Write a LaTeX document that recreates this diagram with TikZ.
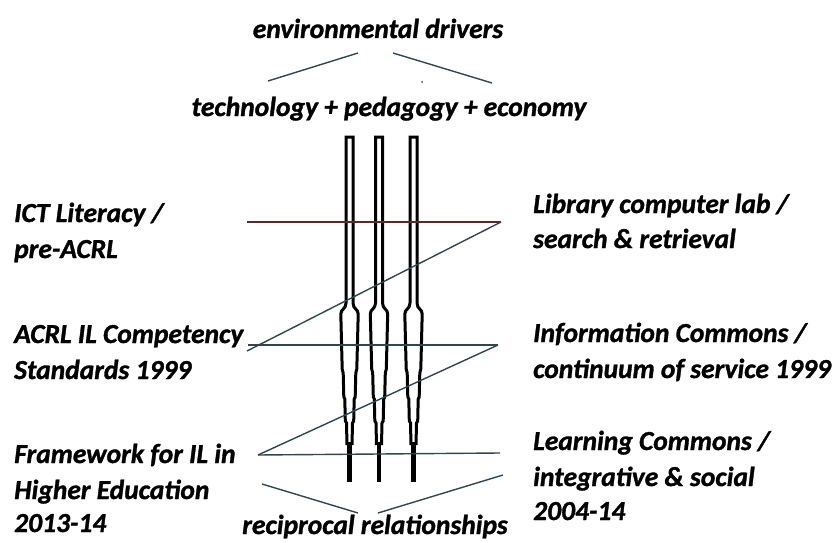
\documentclass[tikz,border=0pt]{standalone}
\usepackage{fontspec}
\setmainfont{Carlito}[BoldItalicFeatures={FakeBold=1.2}]
\definecolor{lineslate}{HTML}{35454C}
\definecolor{linebrown}{HTML}{5A2A26}
\begin{document}
\begin{tikzpicture}[x=1pt,y=-1pt,
  lbl/.style={font=\fontsize{27.5}{32}\selectfont\bfseries\itshape, inner sep=0pt, text=black},
  thin/.style={draw=lineslate, line width=1.4pt},
  pil/.style={draw=black, line width=3pt, line join=miter}]
\useasboundingbox (0,0) rectangle (838,543);
\fill[white] (0,0) rectangle (838,543);
% titles
\node[lbl, anchor=base] (env) at (378,38) {environmental drivers};
\node[lbl, anchor=base] (tpe) at (389,116) {technology + pedagogy + economy};
\node[lbl, anchor=base] (rec) at (375,534) {reciprocal relationships};
% top and bottom strokes
\coordinate (t1) at (268,81); \coordinate (t2) at (358,53);
\coordinate (t3) at (393,53); \coordinate (t4) at (492,83);
\draw[thin] (t1) -- (t2);
\draw[thin] (t3) -- (t4);
\fill[black!70] (422,82) circle (1);
\coordinate (b1) at (262,484); \coordinate (b2) at (358,513);
\coordinate (b3) at (378,513); \coordinate (b4) at (503,475);
\draw[thin] (b1) -- (b2);
\draw[thin] (b3) -- (b4);
% left labels
\node[lbl, anchor=base west] (l1a) at (14,222) {ICT Literacy /};
\node[lbl, anchor=base west] (l1b) at (14,258) {pre-ACRL};
\node[lbl, anchor=base west] (l2a) at (14,343) {ACRL IL Competency};
\node[lbl, anchor=base west] (l2b) at (14,379) {Standards 1999};
\node[lbl, anchor=base west] (l3a) at (14,463) {Framework for IL in};
\node[lbl, anchor=base west] (l3b) at (14,499) {Higher Education};
\node[lbl, anchor=base west] (l3c) at (14,532) {2013-14};
% right labels
\node[lbl, anchor=base west] (r1a) at (533,213) {Library computer lab /};
\node[lbl, anchor=base west] (r1b) at (533,248) {search \& retrieval};
\node[lbl, anchor=base west] (r2a) at (533,342) {Information Commons /};
\node[lbl, anchor=base west] (r2b) at (533,378) {continuum of service 1999};
\node[lbl, anchor=base west] (r3a) at (533,450) {Learning Commons /};
\node[lbl, anchor=base west] (r3b) at (533,486) {integrative \& social};
\node[lbl, anchor=base west] (r3c) at (533,520) {2004-14};
% pillars
\foreach \c in {349.5,379,413.5}{
  \draw[pil] (\c-2.5,445) -- (\c-3,423) -- (\c-4.2,421) -- (\c-4.7,399) -- (\c-5.7,397)
    -- (\c-6.3,373) -- (\c-7.3,369) -- (\c-8.7,314)
    .. controls (\c-8.7,309) and (\c-3.5,309) .. (\c-3.5,303)
    -- (\c-3.5,137) -- (\c+3.5,137) -- (\c+3.5,303)
    .. controls (\c+3.5,309) and (\c+8.7,309) .. (\c+8.7,314)
    -- (\c+7.3,369) -- (\c+6.3,373) -- (\c+5.7,397) -- (\c+4.7,399)
    -- (\c+4.2,421) -- (\c+3,423) -- (\c+2.5,445);
  \draw[black, line width=4.8pt] (\c,442) -- (\c,482);
}
% horizontal and diagonal connectors
\coordinate (h1l) at (247,222); \coordinate (h1r) at (501,222);
\coordinate (d1e) at (247,351);
\coordinate (h2l) at (248,345); \coordinate (h2r) at (498,345);
\coordinate (h3l) at (258,455); \coordinate (h3r) at (500,453);
\draw[thin, draw=linebrown] (h1l) -- (h1r);
\draw[thin] (h1r) -- (d1e);
\draw[thin] (h2l) -- (h2r);
\draw[thin] (h2r) -- (h3l);
\draw[thin] (h3l) -- (h3r);
\end{tikzpicture}
\end{document}
